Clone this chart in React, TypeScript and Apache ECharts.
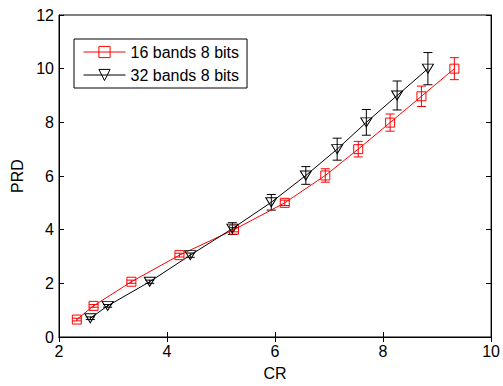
import React, { useEffect, useRef } from "react";
import * as echarts from "echarts";

const cr16 = [2.33, 2.64, 3.34, 4.23, 5.24, 6.18, 6.93, 7.54, 8.13, 8.71, 9.32];
const prd16 = [0.65, 1.16, 2.06, 3.05, 4.0, 5.0, 6.02, 7.0, 7.99, 8.97, 10.0];
const err16 = [0.05, 0.05, 0.06, 0.07, 0.08, 0.1, 0.25, 0.29, 0.32, 0.38, 0.41];
const cr32 = [2.58, 2.9, 3.68, 4.43, 5.21, 5.93, 6.57, 7.15, 7.69, 8.26, 8.83];
const prd32 = [0.7, 1.16, 2.06, 3.05, 4.04, 5.02, 6.02, 7.0, 8.0, 9.0, 10.0];
const err32 = [0.05, 0.05, 0.06, 0.08, 0.22, 0.29, 0.33, 0.41, 0.48, 0.54, 0.6];

const name16 = "16 bands 8 bits";
const name32 = "32 bands 8 bits";
const FONT = "'Liberation Sans', Arial, sans-serif";

function errSeries(xs: number[], ys: number[], es: number[], color: string) {
  return {
    type: "custom",
    silent: true,
    data: xs.map((x, i) => [x, ys[i], es[i]]),
    encode: { x: 0, y: 1 },
    renderItem: (params: any, api: any) => {
      const x = api.value(0);
      const y = api.value(1);
      const e = api.value(2);
      const top = api.coord([x, y + e]);
      const bot = api.coord([x, y - e]);
      const hw = 4.5;
      const style = { stroke: color, lineWidth: 1 };
      return {
        type: "group",
        children: [
          { type: "line", shape: { x1: top[0], y1: top[1], x2: bot[0], y2: bot[1] }, style },
          { type: "line", shape: { x1: top[0] - hw, y1: top[1], x2: top[0] + hw, y2: top[1] }, style },
          { type: "line", shape: { x1: bot[0] - hw, y1: bot[1], x2: bot[0] + hw, y2: bot[1] }, style },
        ],
      };
    },
    z: 3,
  };
}

export default function App() {
  const ref = useRef<HTMLDivElement>(null);
  useEffect(() => {
    if (!ref.current) return;
    const chart = echarts.init(ref.current, undefined, { renderer: "svg" });
    const axisCommon = {
      axisLine: { show: true, lineStyle: { color: "#000", width: 1 } },
      axisTick: { show: true, inside: true, length: 5, lineStyle: { color: "#000" } },
      splitLine: { show: false },
    };
    chart.setOption({
      animation: false,
      backgroundColor: "#fff",
      textStyle: { fontFamily: FONT },
      grid: { left: 59, right: 9, top: 15, bottom: 44, show: true, borderColor: "#000", borderWidth: 1, backgroundColor: "transparent" },
      legend: {
        data: [name16, name32],
        orient: "vertical",
        left: 74,
        top: 39,
        width: 175,
        backgroundColor: "#fff",
        borderColor: "#000",
        borderWidth: 1,
        padding: [5, 8, 5, 9],
        itemWidth: 42,
        itemHeight: 14,
        itemGap: 7,
        lineStyle: { width: 1 },
        itemStyle: { borderWidth: 1 },
        textStyle: { fontFamily: FONT, fontSize: 16, color: "#000", lineHeight: 16 },
      },
      xAxis: [
        {
          type: "value",
          min: 2,
          max: 10,
          interval: 2,
          name: "CR",
          nameLocation: "middle",
          nameGap: 28,
          nameTextStyle: { fontFamily: FONT, fontSize: 16, color: "#000" },
          axisLabel: { fontFamily: FONT, fontSize: 16, color: "#000", margin: 6 },
          ...axisCommon,
        },
        {
          type: "value",
          position: "top",
          min: 2,
          max: 10,
          interval: 2,
          axisLabel: { show: false },
          ...axisCommon,
        },
      ],
      yAxis: [
        {
          type: "value",
          min: 0,
          max: 12,
          interval: 2,
          name: "PRD",
          nameLocation: "middle",
          nameGap: 29,
          nameTextStyle: { fontFamily: FONT, fontSize: 16, color: "#000" },
          axisLabel: { fontFamily: FONT, fontSize: 16, color: "#000", margin: 5 },
          ...axisCommon,
        },
        {
          type: "value",
          position: "right",
          min: 0,
          max: 12,
          interval: 2,
          axisLabel: { show: false },
          ...axisCommon,
        },
      ],
      series: [
        {
          name: name16,
          type: "line",
          data: cr16.map((x, i) => [x, prd16[i]]),
          symbol: "rect",
          symbolSize: 9,
          lineStyle: { color: "#ff0000", width: 1 },
          itemStyle: { color: "transparent", borderColor: "#ff0000", borderWidth: 1 },
          z: 4,
        },
        {
          name: name32,
          type: "line",
          data: cr32.map((x, i) => [x, prd32[i]]),
          symbol: "triangle",
          symbolRotate: 180,
          symbolSize: [11, 9],
          lineStyle: { color: "#000", width: 1 },
          itemStyle: { color: "transparent", borderColor: "#000", borderWidth: 1 },
          z: 4,
        },
        errSeries(cr16, prd16, err16, "#ff0000"),
        errSeries(cr32, prd32, err32, "#000"),
      ],
    });
    return () => chart.dispose();
  }, []);
  return <div ref={ref} style={{ width: 503, height: 386, position: "absolute", left: 0, top: 0 }} />;
}
